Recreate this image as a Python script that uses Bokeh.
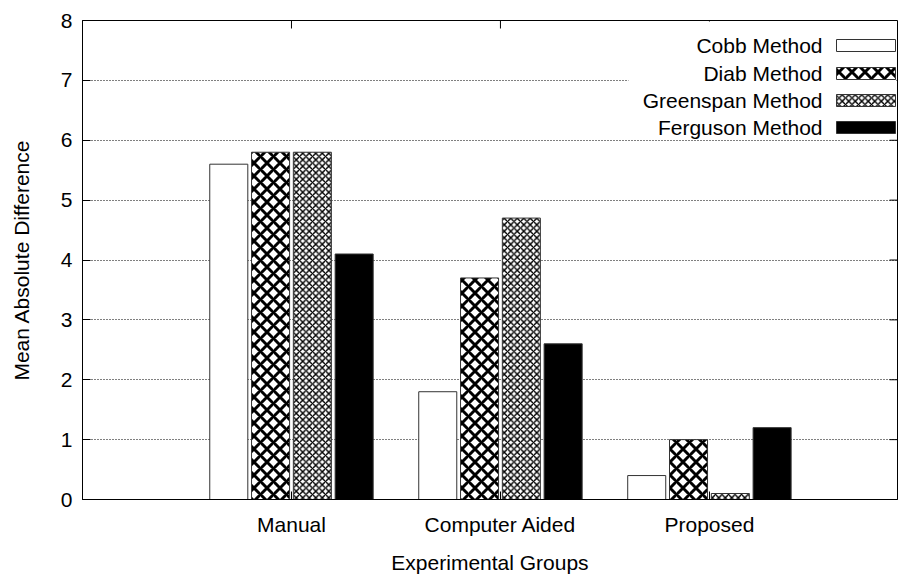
from bokeh.plotting import figure
from bokeh.models import Range1d, FixedTicker
from bokeh.core.properties import value
from bokeh.embed import file_html
from bokeh.resources import INLINE

# ---- data -------------------------------------------------------------
groups = ["Manual", "Computer Aided", "Proposed"]
methods = ["Cobb Method", "Diab Method", "Greenspan Method", "Ferguson Method"]
cobb = [5.6, 1.8, 0.4]
diab = [5.8, 3.7, 1.0]
greenspan = [5.8, 4.7, 0.1]
ferguson = [4.1, 2.6, 1.2]
y_ticks = [0, 1, 2, 3, 4, 5, 6, 7, 8]

series = [cobb, diab, greenspan, ferguson]
x_ticks = list(range(len(groups)))

# ---- layout -----------------------------------------------------------
W, H = 910, 576
FL, FR, FT, FB = 82, 897, 20, 499      # frame edges (px)
X0, X1 = -1.0, 2.9
Y0, Y1 = 0.0, 8.0
FONT = "Liberation Sans"
FS = "21px"
TICK = 8                                # inward tick length (px)

styles = [
    dict(fill_color="white"),
    dict(fill_color="white", hatch_pattern="x", hatch_color="black",
         hatch_scale=13, hatch_weight=3),
    dict(fill_color="white", hatch_pattern="x", hatch_color="black",
         hatch_scale=6.5, hatch_weight=1.4),
    dict(fill_color="black"),
]


def dx(px):
    return X0 + (px - FL) / (FR - FL) * (X1 - X0)


def dy(py):
    return Y1 - (py - FT) / (FB - FT) * (Y1 - Y0)


p = figure(width=W, height=H, x_range=Range1d(X0, X1), y_range=Range1d(Y0, Y1),
           output_backend="svg", toolbar_location=None,
           min_border_left=FL, min_border_right=W - FR,
           min_border_top=FT, min_border_bottom=H - FB)
p.background_fill_color = "white"
p.border_fill_color = "white"
p.outline_line_color = "black"
p.outline_line_width = 1

# grid: dotted horizontal lines only
p.xgrid.visible = False
p.ygrid.ticker = FixedTicker(ticks=y_ticks[1:-1])
p.ygrid.grid_line_color = "black"
p.ygrid.grid_line_dash = "1 2"
p.ygrid.grid_line_width = 1

# bars
n = len(series)
bar_step = 0.2
bar_w = 0.182
for j, (vals, st) in enumerate(zip(series, styles)):
    xs = [i + (j - (n - 1) / 2) * bar_step for i in x_ticks]
    p.vbar(x=xs, top=vals, bottom=0, width=bar_w,
           line_color="#333333", line_width=1, **st)

# axes
p.xaxis.ticker = FixedTicker(ticks=x_ticks)
p.xaxis.major_label_overrides = {i: g for i, g in zip(x_ticks, groups)}
p.yaxis.ticker = FixedTicker(ticks=y_ticks)
for ax in (p.xaxis[0], p.yaxis[0]):
    ax.major_tick_in = TICK
    ax.major_tick_out = 0
    ax.minor_tick_line_color = None
    ax.axis_line_color = "black"
    ax.major_tick_line_color = "black"
    ax.major_label_text_font = FONT
    ax.major_label_text_font_size = FS
    ax.major_label_text_color = "black"
    ax.axis_label_text_font = FONT
    ax.axis_label_text_font_size = FS
    ax.axis_label_text_font_style = "normal"
    ax.axis_label_text_color = "black"
p.xaxis.major_label_standoff = 13
p.yaxis.major_label_standoff = 10
p.xaxis.axis_label = "Experimental Groups"
p.yaxis.axis_label = "Mean Absolute Difference"
p.xaxis.axis_label_standoff = 12
p.yaxis.axis_label_standoff = 25

# mirrored ticks along the top and right edges of the frame
p.segment(x0=x_ticks, x1=x_ticks, y0=[Y1] * len(x_ticks),
          y1=[dy(FT + TICK)] * len(x_ticks), line_color="black", line_width=1)
p.segment(x0=[X1] * len(y_ticks), x1=[dx(FR - TICK)] * len(y_ticks),
          y0=y_ticks, y1=y_ticks, line_color="black", line_width=1)

# legend (key box in the upper right corner)
p.quad(left=dx(628), right=dx(FR - 1), top=dy(FT + 1), bottom=dy(137),
       fill_color="white", line_color=None)
row_y = [45, 73, 100, 127]
for name, st, ry in zip(methods, styles, row_y):
    p.text(x=[dx(822)], y=[dy(ry)], text=[name],
           text_font=value(FONT), text_font_size=value(FS),
           text_align="right", text_baseline="middle", text_color="black")
    p.quad(left=[dx(836)], right=[dx(895)], top=[dy(ry - 6)], bottom=[dy(ry + 6)],
           line_color="#333333", line_width=1, **st)

open("out.html", "w").write(file_html(p, INLINE))
